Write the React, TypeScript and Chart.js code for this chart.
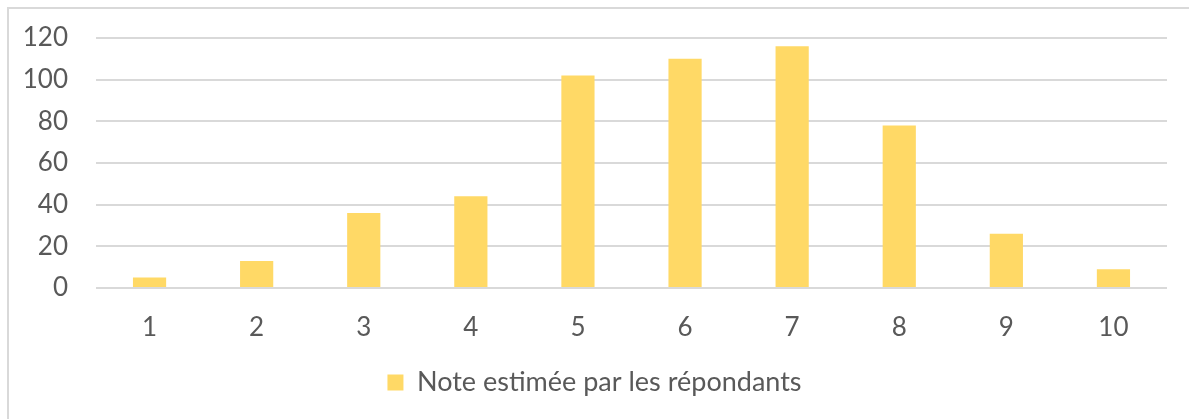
import React, { useEffect, useRef } from "react";
import { Chart, registerables } from "chart.js";

Chart.register(...registerables);

const categories = ["1", "2", "3", "4", "5", "6", "7", "8", "9", "10"];
const seriesLabel = "Note estimée par les répondants";
const seriesValues = [5, 13, 36, 44, 102, 110, 116, 78, 26, 9];
const yTicks = [0, 20, 40, 60, 80, 100, 120];

const TEXT = "#595959";
const GRID = "#D9D9D9";
const BAR = "#FFD966";
const FONT = "Lato, 'Open Sans', sans-serif";

export default function App() {
  const ref = useRef<HTMLCanvasElement | null>(null);
  useEffect(() => {
    if (!ref.current) return;
    const chart = new Chart(ref.current, {
      type: "bar",
      data: {
        labels: categories,
        datasets: [
          {
            label: seriesLabel,
            data: seriesValues,
            backgroundColor: BAR,
            borderWidth: 0,
            barPercentage: 0.62,
            categoryPercentage: 0.5,
          },
        ],
      },
      options: {
        animation: false,
        responsive: false,
        maintainAspectRatio: false,
        layout: { padding: { left: 22, right: 22, top: 38, bottom: 13 } },
        plugins: {
          tooltip: { enabled: false },
          legend: {
            position: "bottom",
            labels: {
              color: TEXT,
              font: { family: FONT, size: 27 },
              boxWidth: 16,
              boxHeight: 16,
              padding: 14,
            },
          },
        },
        scales: {
          x: {
            grid: { display: false, drawTicks: false },
            border: { display: false },
            ticks: { color: TEXT, font: { family: FONT, size: 26 }, padding: 24 },
            afterFit: (s: any) => {
              s.height = 67;
              s.paddingLeft = 0;
              s.paddingRight = 0;
            },
          },
          y: {
            min: 0,
            max: 120,
            afterBuildTicks: (s: any) => {
              s.ticks = yTicks.map((v) => ({ value: v }));
            },
            grid: { color: GRID, lineWidth: 2, drawTicks: false },
            border: { display: false },
            ticks: { color: TEXT, font: { family: FONT, size: 26 }, padding: 28 },
            afterFit: (s: any) => {
              s.width = 74;
              s.paddingTop = 0;
              s.paddingBottom = 0;
            },
          },
        },
      },
    });
    return () => chart.destroy();
  }, []);
  return (
    <div style={{ position: "fixed", left: 0, top: 0, width: 1189, height: 419, background: "#fff", overflow: "hidden" }}>
      <div
        style={{
          position: "absolute",
          left: 7,
          top: 7,
          width: 1200,
          height: 430,
          border: "2px solid " + GRID,
          boxSizing: "border-box",
        }}
      />
      <canvas ref={ref} width={1189} height={419} style={{ position: "absolute", left: 0, top: 0 }} />
    </div>
  );
}
